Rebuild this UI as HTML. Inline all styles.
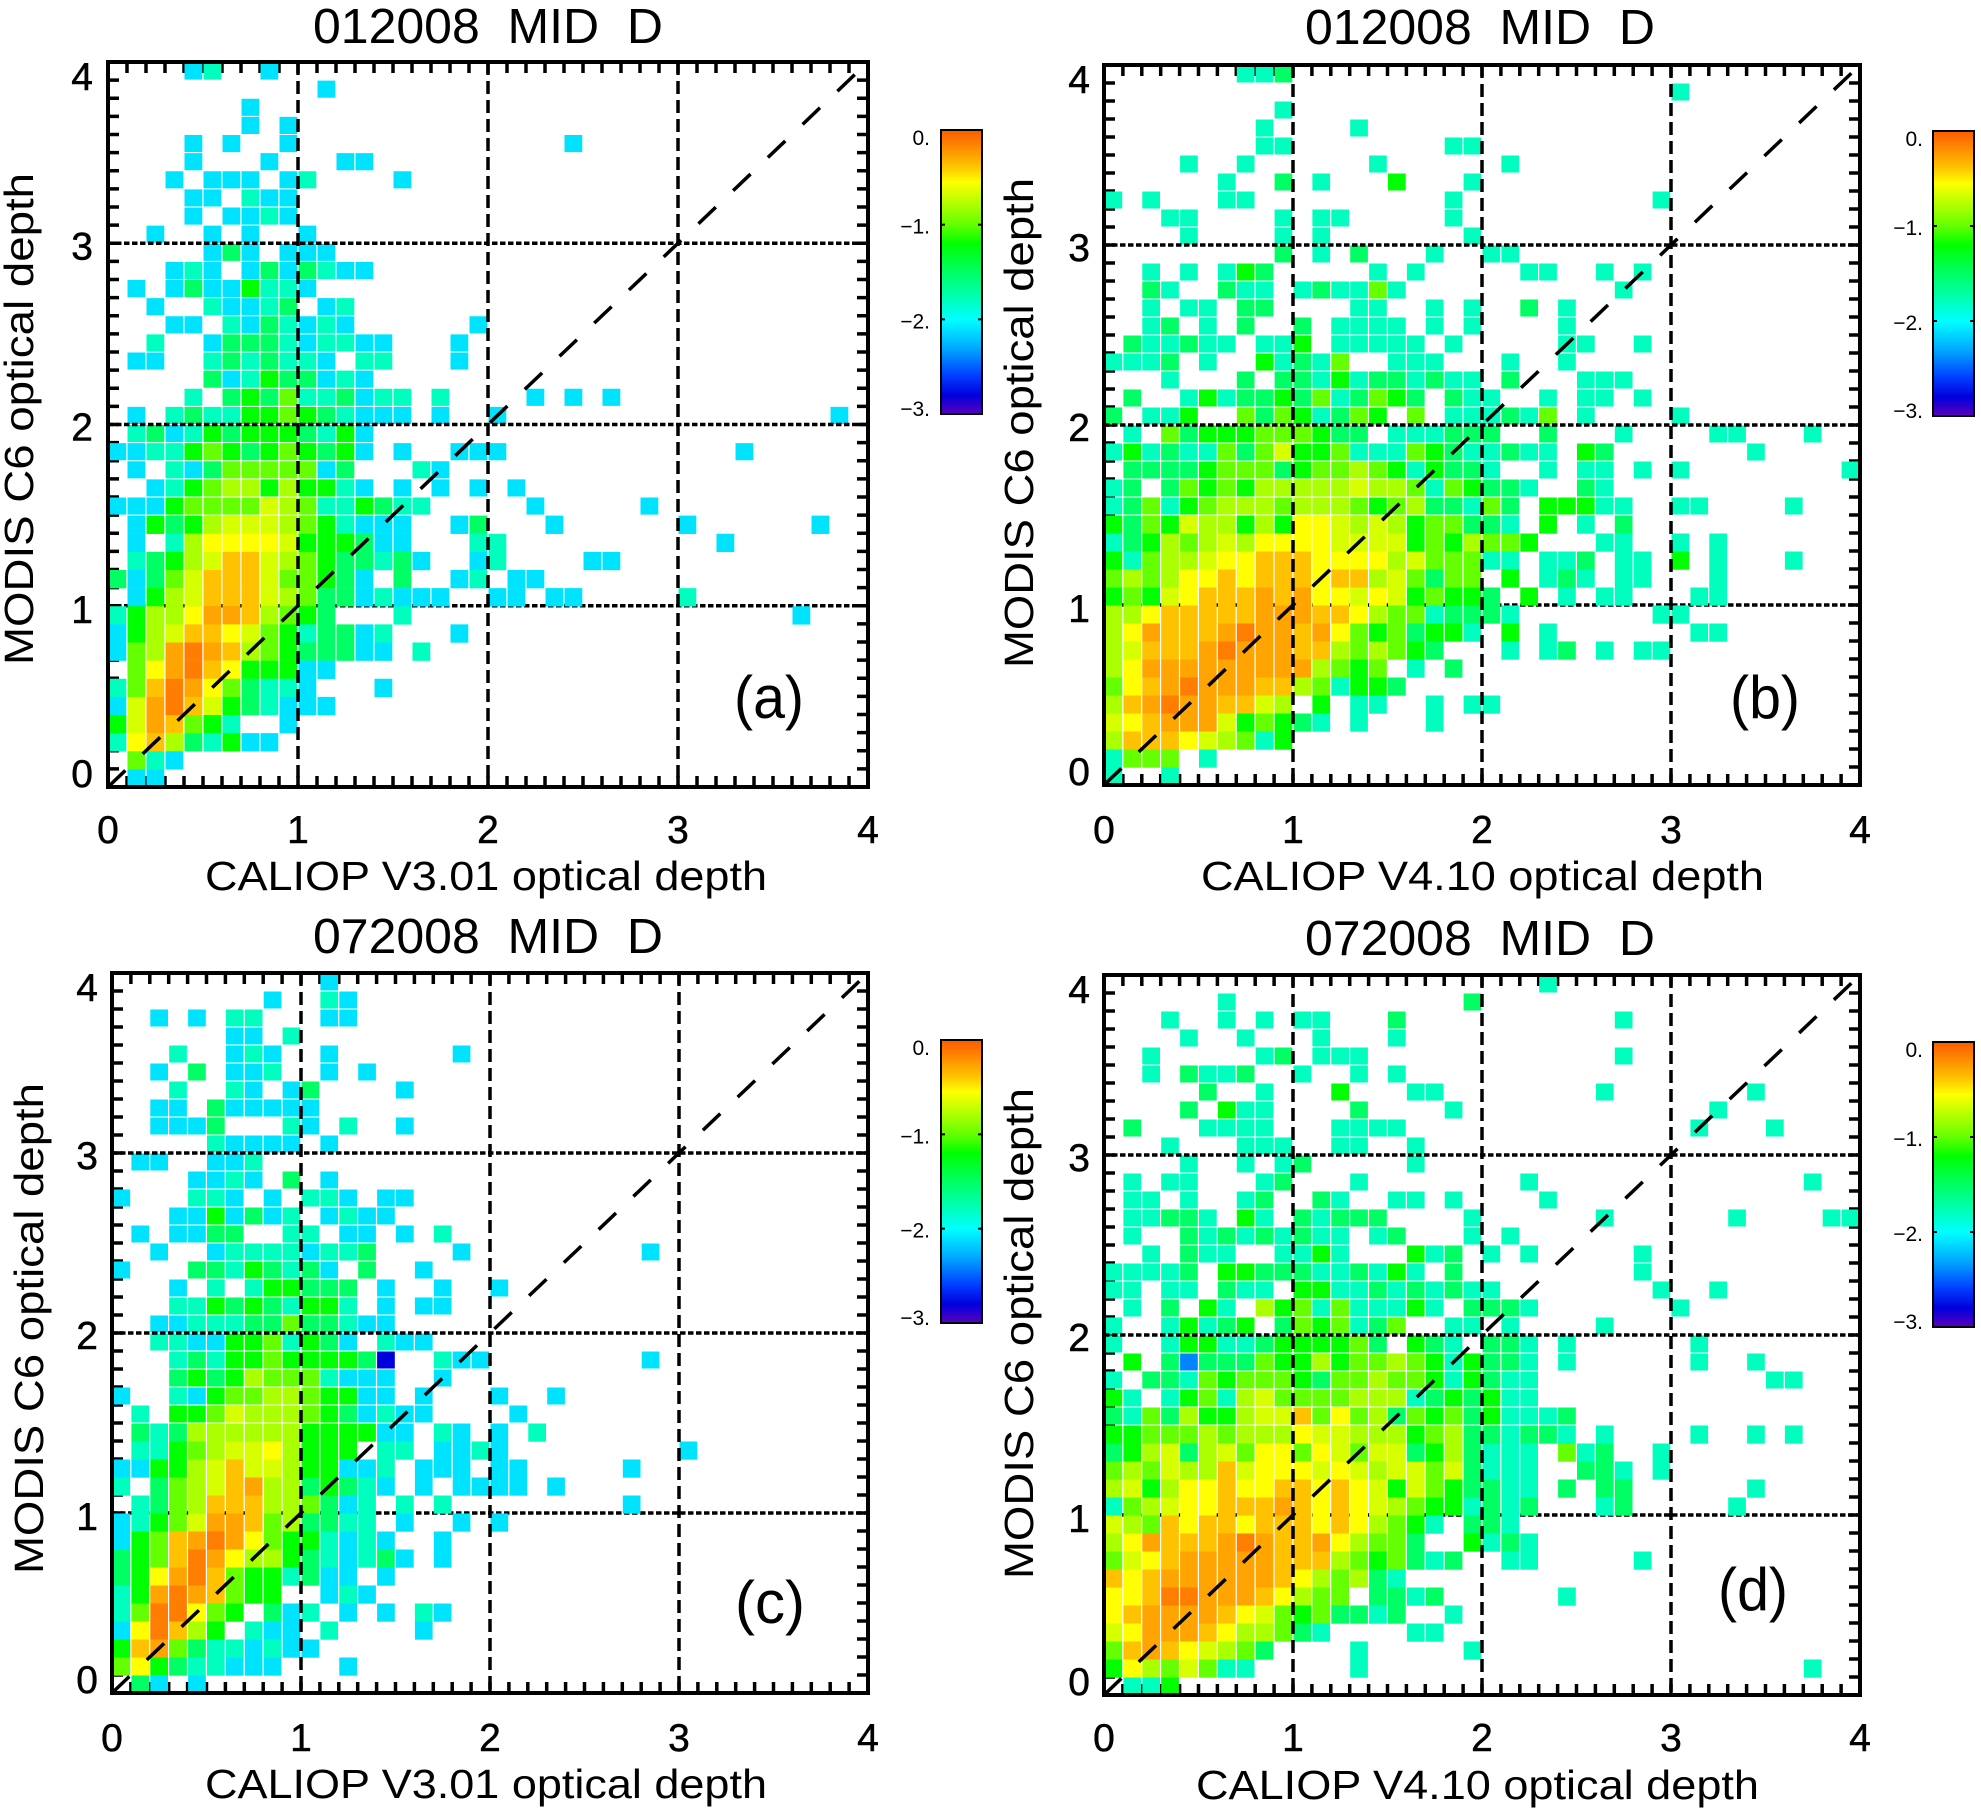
<!DOCTYPE html>
<html lang="en">
<head>
<meta charset="utf-8">
<title>MODIS versus CALIOP optical depth</title>
<style>
html,body{margin:0;padding:0;background:#fff;width:1981px;height:1815px;overflow:hidden}
svg{display:block;font-family:"Liberation Sans","DejaVu Sans",sans-serif}
</style>
</head>
<body>
<svg id="chart" xmlns="http://www.w3.org/2000/svg" width="1981" height="1815" viewBox="0 0 1981 1815"></svg>
<script>
const xTickValues = [0, 1, 2, 3, 4];
const yTickValues = [0, 1, 2, 3, 4];
const colorbarTicks = [0, -1, -2, -3];
const colorbarLabels = ['0.', '\u22121.', '\u22122.', '\u22123.'];
const panelTitles = ['012008  MID  D', '012008  MID  D', '072008  MID  D', '072008  MID  D'];
const panelXTitles = ['CALIOP V3.01 optical depth', 'CALIOP V4.10 optical depth', 'CALIOP V3.01 optical depth', 'CALIOP V4.10 optical depth'];
const panelYTitle = 'MODIS C6 optical depth';
const panelLetters = ['(a)', '(b)', '(c)', '(d)'];
/* log10 value for each cell level; level 0 is an empty bin */
const levelLog = [null, -2.1, -1.8, -1.5, -1.2, -1.0, -0.8, -0.67, -0.55, -0.38, -0.27, -0.13, -2.8, -2.4];

/* Rows run from y=4 (top) to y=0 (bottom), columns from x=0 rightward; short rows are empty to the right */
const gridA = [
[0,0,0,0,1,2,0,0,1],
[0,0,0,0,0,0,0,0,0,0,0,1],
[0,0,0,0,0,0,0,1],
[0,0,0,0,0,0,0,1,0,1],
[0,0,0,0,1,0,1,0,0,1,0,0,0,0,0,0,0,0,0,0,0,0,0,0,1],
[0,0,0,0,1,0,0,0,1,0,0,0,1,1],
[0,0,0,1,0,1,1,1,0,1,2,0,0,0,0,1],
[0,0,0,0,1,1,0,2,1,1],
[0,0,0,0,1,0,1,1,2,1],
[0,0,1,0,0,1,0,1,0,0,1],
[0,0,0,0,0,1,3,1,0,1,1,1],
[0,0,0,1,2,1,0,1,3,1,3,2,1,1],
[0,1,0,1,3,1,1,4,2,2,1],
[0,0,1,0,0,2,1,1,2,3,0,1,2],
[0,0,0,1,1,0,2,1,3,2,1,2,1,0,0,0,0,0,0,1],
[0,0,2,0,0,1,3,3,3,2,1,2,2,1,1,0,0,0,1],
[0,1,1,0,0,2,3,2,3,2,2,1,0,2,2,0,0,0,1],
[0,0,0,0,0,3,1,2,4,3,3,1,2,1],
[0,0,0,0,2,0,3,4,3,5,2,2,3,1,2,2,0,2,0,0,0,0,1,0,1,0,1],
[0,1,0,2,3,2,2,4,4,5,4,3,2,1,1,1,0,1,0,0,1,0,0,0,0,0,0,0,0,0,0,0,0,0,0,0,0,0,1],
[0,2,3,1,2,4,3,4,4,4,3,2,4,1],
[1,1,2,2,4,5,4,3,4,5,4,3,4,1,0,1,0,0,1,1,1,0,0,0,0,0,0,0,0,0,0,0,0,1],
[0,1,0,2,1,3,5,5,5,5,5,1,3,0,0,0,2,1],
[0,0,1,2,4,5,6,6,4,6,4,4,2,1,0,1,0,1,0,1,0,1],
[1,1,1,4,5,5,5,5,7,6,5,2,2,4,3,2,2,0,0,0,0,0,1,0,0,0,0,0,1],
[0,1,4,3,4,6,7,7,7,6,5,4,2,1,1,1,0,0,1,3,0,0,0,1,0,0,0,0,0,0,1,0,0,0,0,0,0,1],
[0,1,0,2,6,8,8,8,8,7,4,4,4,3,1,1,0,0,0,2,2,0,0,0,0,0,0,0,0,0,0,0,1],
[0,2,3,4,6,7,9,9,7,6,5,4,3,3,2,3,1,0,0,1,2,0,0,0,0,1,1],
[3,1,3,5,7,9,9,9,7,5,5,4,3,1,0,3,0,0,1,2,0,1,1],
[0,1,4,6,7,9,9,9,7,6,5,3,3,1,2,1,1,1,0,0,1,1,0,1,1,0,0,0,0,0,2],
[2,4,6,6,8,10,10,9,6,5,4,3,0,0,0,2,0,0,0,0,0,0,0,0,0,0,0,0,0,0,0,0,0,0,0,0,1],
[1,4,6,7,9,9,8,7,5,4,2,3,3,1,2,0,0,0,1],
[1,5,6,10,11,10,9,6,5,4,3,3,3,1,1,0,2],
[0,5,8,10,11,9,8,4,4,4,1,1],
[2,5,9,11,10,8,5,3,2,2,1,0,0,0,1],
[1,7,10,11,9,7,4,3,2,1,1,1],
[4,7,10,9,5,4,2,0,0,1],
[2,8,9,6,3,2,4,1,1],
[0,5,2,1],
[0,1,1]
];
const gridB = [
[0,0,0,0,0,0,0,2,2,3],
[0,0,0,0,0,0,0,0,0,0,0,0,0,0,0,0,0,0,0,0,0,0,0,0,0,0,0,0,0,0,2],
[0,0,0,0,0,0,0,0,0,2],
[0,0,0,0,0,0,0,0,2,0,0,0,0,2],
[0,0,0,0,0,0,0,0,2,2,0,0,0,0,0,0,0,0,2,2],
[0,0,0,0,2,0,0,2,0,0,0,0,0,0,2,0,0,0,0,0,0,2],
[0,0,0,0,0,0,2,0,0,3,0,2,0,0,0,4,0,0,0,2],
[2,0,2,0,0,0,2,2,0,0,0,0,0,0,0,0,0,0,2,0,0,0,0,0,0,0,0,0,0,2],
[0,0,0,2,2,0,0,0,0,2,0,2,2,0,0,0,0,0,2],
[0,0,0,0,2,0,0,0,0,2,0,2,0,0,0,0,0,0,0,2],
[0,0,0,0,0,0,0,0,0,3,0,2,0,3,0,0,0,2,0,0,2,2],
[0,0,2,0,2,0,2,4,3,0,0,0,0,0,2,0,2,0,0,0,0,0,2,2,0,0,2,0,2],
[0,0,3,2,0,0,3,2,2,0,2,3,2,2,5,2,0,0,0,0,0,0,0,0,0,0,0,2],
[0,0,2,0,2,2,0,3,3,0,0,0,0,2,2,0,0,2,0,2,0,0,3,0,2],
[0,0,2,3,0,2,0,3,0,0,3,0,2,2,2,2,0,2,0,2,0,0,0,0,2],
[0,3,2,2,3,2,2,0,2,2,4,0,2,2,2,2,2,0,2,0,0,0,0,0,2,2,0,0,2],
[2,2,2,3,0,2,0,0,4,2,3,2,5,0,0,2,2,2,0,0,0,2,0,0,2],
[0,0,0,2,0,0,0,3,0,3,3,2,4,2,3,3,2,3,2,2,0,3,0,0,0,2,2,2],
[0,3,0,0,2,4,2,3,3,4,3,5,2,3,5,4,3,0,3,2,2,0,0,2,0,2,2,0,2],
[3,0,2,2,4,0,0,5,3,5,4,2,3,5,4,0,5,0,2,2,2,3,2,5,0,2,0,0,0,0,2],
[0,2,0,5,3,4,4,4,5,5,5,4,3,3,0,2,2,2,3,3,3,0,0,3,0,0,0,2,0,0,0,0,2,2,0,0,0,2],
[2,4,2,3,2,2,5,3,5,7,4,4,5,2,2,2,5,4,3,2,2,3,2,2,0,4,3,0,0,0,0,0,0,0,2],
[0,3,3,3,3,4,5,5,5,3,4,5,5,6,5,4,2,4,3,3,2,0,0,2,0,2,2,0,2,0,2,0,0,0,0,0,0,0,0,2],
[2,3,0,3,5,4,5,4,6,6,6,6,6,7,6,6,5,2,5,4,3,3,2,0,0,3,2],
[2,3,5,2,4,5,6,6,6,5,6,6,6,5,4,5,6,3,3,2,5,3,0,4,4,4,2,2,0,0,2,2,0,0,0,0,2],
[4,3,5,4,7,6,6,4,6,4,8,8,7,6,7,6,4,5,5,3,3,2,0,4,0,2,0,3],
[2,3,4,6,5,6,7,6,8,8,8,8,7,7,7,7,4,5,4,6,5,5,4,0,0,0,2,2,0,0,2,0,2],
[4,2,5,6,6,7,8,8,9,9,9,8,8,8,8,6,7,5,5,5,2,2,0,2,2,3,0,2,2,0,4,0,2,0,0,0,2],
[5,6,5,6,8,8,9,8,9,9,9,8,9,9,6,7,5,3,5,5,0,4,0,2,3,2,0,2,2,0,0,0,2],
[4,5,4,7,8,9,9,9,10,9,10,8,8,7,8,7,4,5,4,4,3,0,4,0,2,0,2,2,0,0,0,2,2],
[6,6,8,9,9,9,9,9,10,10,10,9,9,8,6,5,5,2,3,3,3,2,0,0,0,0,0,0,0,2,2],
[6,8,10,9,9,9,10,11,10,10,9,10,8,5,4,5,3,4,4,2,0,4,0,2,0,0,0,0,0,0,0,2,2],
[6,7,9,9,9,10,11,10,10,10,9,9,6,5,6,5,4,3,0,0,0,2,0,2,3,0,2,0,2,2],
[6,8,10,10,10,10,10,10,10,10,10,6,5,4,5,0,2,0,3],
[5,8,9,10,11,10,10,10,9,9,6,5,2,4,4,3],
[6,9,10,11,10,10,9,9,7,6,0,4,0,2,2,0,0,2,0,2,2],
[7,8,9,10,10,10,7,4,5,4,3,2,0,2,0,0,0,2],
[6,9,9,9,8,7,6,5,2,4],
[2,5,5,5,0,2],
[2,0,0,2]
];
const gridC = [
[0,0,0,0,0,0,0,0,0,0,0,1],
[0,0,0,0,0,0,0,0,1,0,0,2,1],
[0,0,1,0,1,0,2,2,0,0,0,1,1],
[0,0,0,0,0,0,1,1,0,2],
[0,0,0,2,0,0,1,2,1,0,0,1,0,0,0,0,0,0,1],
[0,0,1,0,3,0,1,1,2,0,0,1,0,1],
[0,0,0,2,0,0,2,1,0,1,3,0,0,0,0,1],
[0,0,1,1,0,3,1,1,1,1,1],
[0,0,1,1,1,3,0,0,0,2,1,0,2,0,0,1],
[0,0,0,0,0,2,1,1,1,1,0,1],
[0,1,1,0,0,1,1,2],
[0,0,0,0,1,1,2,1,0,3,0,1],
[1,0,0,0,2,2,1,0,1,0,2,2,1,0,1,1],
[0,0,0,1,1,4,1,3,1,2,0,1,2,1,1],
[0,1,0,1,1,3,3,0,0,2,2,0,1,1,0,1,0,2],
[0,0,1,0,0,1,2,2,2,2,1,2,2,3,0,0,0,0,1,0,0,0,0,0,0,0,0,0,1],
[1,0,0,0,3,3,2,4,3,2,3,1,0,3,0,0,1],
[0,0,0,1,0,2,0,2,4,4,3,3,3,0,1,0,0,1,0,0,1],
[0,0,0,2,2,4,3,4,3,2,4,4,2,0,1,0,1,1],
[0,0,1,1,2,2,2,3,3,5,3,3,2,1,1],
[0,0,2,2,1,1,4,4,5,2,4,3,1,0,2,1,1],
[0,0,0,2,3,2,4,4,5,4,4,4,4,3,12,0,0,2,1,1,0,0,0,0,0,0,0,0,1],
[0,0,0,3,4,3,4,6,5,5,5,2,1,1,1,0,0,1],
[1,0,0,2,1,4,5,5,6,6,5,4,4,1,1,0,1,0,0,0,1,0,0,1],
[0,2,0,4,4,5,7,6,6,6,5,4,3,1,2,1,1,0,0,0,0,1],
[0,3,2,3,6,6,6,6,6,6,4,4,4,4,1,1,0,2,1,0,1,0,2],
[0,2,2,4,5,6,7,7,8,6,4,4,4,0,2,2,0,1,1,2,1,0,0,0,0,0,0,0,0,0,1],
[1,1,4,4,6,7,9,7,7,6,4,4,1,1,2,0,1,1,1,0,1,1,0,0,0,0,0,1],
[2,0,3,5,6,7,9,10,6,6,3,4,3,2,1,0,1,0,1,1,1,1,0,1],
[0,2,3,5,6,9,9,9,6,6,5,3,1,2,0,2,0,2,0,0,0,0,0,0,0,0,0,1],
[1,2,4,5,7,10,10,9,5,6,3,3,2,2,0,1,0,0,1,0,1],
[1,4,5,9,10,11,10,8,5,4,4,2,1,2,1,0,0,1],
[3,4,5,9,11,10,8,6,6,4,3,2,1,2,3,1,0,1],
[3,4,8,10,11,9,5,4,4,2,3,1,1,0,1],
[2,4,10,11,10,9,5,4,4,0,0,1,2,1],
[2,5,11,11,8,5,4,0,3,1,2,0,1,0,1,0,2,1],
[1,8,11,9,6,4,0,2,1,1,0,2,0,0,0,0,1],
[4,9,10,5,3,2,2,1,2,1,1],
[5,8,4,3,2,2,1,1,1,0,0,0,1],
[0,3,1,0,1]
];
const gridD = [
[0,0,0,0,0,0,0,0,0,0,0,0,0,0,0,0,0,0,0,0,0,0,0,2],
[0,0,0,0,0,0,2,0,0,0,0,0,0,0,0,0,0,0,0,3],
[0,0,0,2,0,0,2,0,2,0,2,2,0,0,0,3,0,0,0,0,0,0,0,0,0,0,0,2],
[0,0,0,0,2,0,0,2,0,0,0,2,0,0,0,2],
[0,0,2,0,0,0,0,0,2,3,0,2,2,2,0,0,0,0,0,0,0,0,0,0,0,0,0,2],
[0,0,2,0,3,2,2,3,0,0,2,0,0,2,0,2],
[0,0,0,0,0,3,0,0,2,0,0,0,4,0,0,0,2,2,0,0,0,0,0,0,0,0,2,0,0,0,0,0,0,0,2],
[0,0,0,0,3,0,4,2,2,0,0,0,0,3,0,0,0,0,2,0,0,0,0,0,0,0,0,0,0,0,0,0,2],
[0,3,0,0,0,2,2,2,2,0,0,0,2,2,2,2,0,0,0,0,0,0,0,0,0,0,0,0,0,0,0,2,0,0,0,2],
[0,0,0,2,0,0,0,2,2,2,0,0,2,2,0,0,2],
[0,0,0,0,2,0,0,2,0,2,3,0,0,0,0,0,2],
[0,2,0,2,2,0,0,0,2,3,0,0,0,2,0,0,0,0,0,0,0,0,2,0,0,0,0,0,0,0,0,0,0,0,0,0,0,2],
[0,2,2,0,2,0,0,2,3,0,0,3,2,0,0,2,2,0,2,0,0,0,0,2],
[0,2,2,3,3,2,0,4,2,0,3,2,3,3,3,0,0,0,0,2,0,0,0,0,0,0,2,0,0,0,0,0,0,2,0,0,0,0,2,2],
[0,2,0,0,3,2,3,2,3,2,3,2,2,0,2,3,0,0,0,2,0,2],
[0,0,2,0,3,2,2,0,0,2,2,4,2,0,0,0,4,2,3,0,2,0,2,0,0,0,0,0,2],
[2,2,2,2,3,0,4,4,3,3,3,2,2,3,2,4,2,0,3,0,0,0,0,0,0,0,0,0,2],
[2,2,0,2,2,0,3,2,2,0,4,4,2,2,3,2,3,2,3,2,2,0,0,0,0,0,0,0,0,2,0,0,2],
[0,2,0,3,0,4,2,0,6,4,5,2,5,2,2,2,4,2,0,3,3,3,2,0,0,0,0,0,0,0,2],
[2,0,0,2,4,2,3,4,0,3,5,4,5,2,3,5,0,0,2,2,0,2,0,0,0,0,2],
[2,0,0,2,4,4,2,2,3,4,4,4,4,5,3,0,4,3,2,0,3,3,2,0,2,0,0,0,0,0,0,2],
[0,4,0,3,13,3,3,3,5,4,4,6,4,5,5,6,5,4,2,4,3,3,2,0,2,0,0,0,0,0,0,2,0,0,2],
[2,0,3,3,2,5,4,5,5,5,4,3,5,5,6,5,5,4,2,4,3,2,2,0,0,0,0,0,0,0,0,0,0,0,0,2,2],
[4,2,0,2,4,5,2,6,7,5,5,5,5,6,6,6,2,3,4,3,4,2,2],
[3,2,5,3,6,4,4,6,7,7,9,5,8,5,6,3,5,4,5,3,4,2,2,2,3],
[4,4,5,5,5,6,5,6,6,6,8,7,7,6,6,6,4,5,6,3,3,2,3,3,2,0,2,0,0,0,0,2,0,0,2,0,2],
[3,4,6,7,3,6,7,5,8,8,5,8,7,5,7,7,3,4,6,3,2,2,2,0,5,2,3,0,0,2],
[5,6,5,7,6,6,9,7,8,8,8,7,8,7,6,7,7,5,7,3,2,2,2,0,0,3,3,2,0,2],
[6,7,4,6,8,8,9,8,8,9,9,8,9,8,7,4,7,5,4,3,3,2,2,0,3,0,3,3,0,0,0,0,0,0,2],
[2,5,6,7,8,8,9,9,9,10,9,8,9,8,7,6,5,4,4,2,3,2,3,0,0,0,2,3,0,0,0,0,0,2],
[7,6,5,9,8,9,9,8,9,9,9,8,9,8,6,5,4,2,0,3,3,2],
[6,8,10,9,9,9,10,11,10,9,9,10,8,6,5,5,3,0,0,4,2,3,2],
[5,7,8,9,10,10,10,10,10,9,9,9,6,5,4,5,3,2,3,0,0,2,2,0,0,0,0,0,2],
[9,8,9,10,10,10,10,10,10,9,8,6,5,6,3,2],
[8,8,9,11,11,10,10,10,9,8,6,5,5,0,3,3,2,3,0,0,0,0,0,0,2],
[8,9,10,10,10,10,9,8,7,5,4,5,3,3,2,3,0,0,2],
[7,8,10,10,10,9,8,6,6,5,3,2,0,0,0,0,2,2],
[5,9,10,9,8,7,6,5,3,0,0,0,0,2,0,0,0,0,0,2],
[4,8,6,5,7,5,2,2,0,0,0,0,0,2,0,0,0,0,0,0,0,0,0,0,0,0,0,0,0,0,0,0,0,0,0,0,0,2],
[0,2,2,4]
];
const panelGrids = [gridA, gridB, gridC, gridD];

const svgNS = 'http://www.w3.org/2000/svg';
const svg = document.getElementById('chart');
const BINS = 40;
const DOMAIN_MAX = 4;
const layouts = [
  {x0:108,x1:868,y0:787,y1:62,title:[313,43],xt:[205,890],xtLen:562,yt:[33,665],ytLen:492,xl:843,yl:93,letter:[734,718],bar:[941,982,130,414],barLab:930},
  {x0:1104,x1:1860,y0:785,y1:65,title:[1305,44],xt:[1201,890],xtLen:563,yt:[1033,668],ytLen:490,xl:843,yl:1090,letter:[1730,718],bar:[1933,1974,131,416],barLab:1923},
  {x0:112,x1:868,y0:1693,y1:973,title:[313,953],xt:[205,1798],xtLen:562,yt:[43,1574],ytLen:491,xl:1751,yl:98,letter:[735,1623],bar:[941,982,1040,1323],barLab:930},
  {x0:1104,x1:1860,y0:1695,y1:975,title:[1305,955],xt:[1196,1799],xtLen:563,yt:[1033,1579],ytLen:491,xl:1751,yl:1090,letter:[1718,1610],bar:[1933,1974,1042,1327],barLab:1923}
];
const yLabelBaselineShift = [0, 17, 16, 16, 28];
const colorStops = [
  [0,[255,90,0]],[-0.15,[255,130,0]],[-0.4,[255,200,0]],[-0.55,[255,255,0]],[-0.8,[170,255,0]],
  [-1,[100,255,0]],[-1.2,[0,255,0]],[-1.5,[0,255,100]],[-1.8,[0,255,190]],[-2,[0,255,255]],
  [-2.3,[0,170,255]],[-2.6,[0,60,255]],[-2.8,[0,0,220]],[-3,[90,0,190]]
];

function colorOf(v){
  for(let i=1;i<colorStops.length;i++){
    const a=colorStops[i-1], b=colorStops[i];
    if(v>=b[0]){
      const t=(a[0]-v)/(a[0]-b[0]);
      const c=a[1].map((p,k)=>Math.round(p+(b[1][k]-p)*t));
      return 'rgb('+c.join(',')+')';
    }
  }
  return 'rgb(90,0,190)';
}
function mk(tag,attrs,parent){
  const el=document.createElementNS(svgNS,tag);
  for(const k in attrs){el.setAttribute(k,attrs[k]);}
  (parent||svg).appendChild(el);
  return el;
}
const defs=mk('defs',{});
const grad=mk('linearGradient',{id:'colorbar-gradient',x1:0,y1:0,x2:0,y2:1},defs);
colorStops.forEach(s=>{
  mk('stop',{offset:(-s[0]/3),'stop-color':colorOf(s[0]===0?-0.0001:s[0])},grad);
});

function drawPanel(i){
  const L=layouts[i], grid=panelGrids[i];
  const sx=v=>L.x0+(L.x1-L.x0)*v/DOMAIN_MAX;
  const sy=v=>L.y0+(L.y1-L.y0)*v/DOMAIN_MAX;
  const g=mk('g',{});
  
  

  const title=mk('text',{x:L.title[0],y:L.title[1],'font-size':49,textLength:350,lengthAdjust:'spacingAndGlyphs',fill:'#000','xml:space':'preserve'},g);
  title.textContent=panelTitles[i];
  title.setAttribute('style','white-space:pre');
  
  

  const ticks=mk('g',{stroke:'#000','stroke-width':3.5},g);
  
  
  for(let k=1;k<BINS;k++){
    const v=k*DOMAIN_MAX/BINS;
    mk('line',{x1:sx(v),x2:sx(v),y1:L.y1,y2:L.y1+11},ticks);
    mk('line',{x1:sx(v),x2:sx(v),y1:L.y0,y2:L.y0-11},ticks);
    mk('line',{y1:sy(v),y2:sy(v),x1:L.x0,x2:L.x0+11},ticks);
    mk('line',{y1:sy(v),y2:sy(v),x1:L.x1,x2:L.x1-11},ticks);
  }
  const under=mk('line',{x1:L.x0,x2:L.x1,y1:sy(1),y2:sy(1),stroke:'#000','stroke-width':3.5,'stroke-dasharray':'5.5 2.5'},g);
  
  

  const cells=mk('g',{},g);
  
  
  const cw=(L.x1-L.x0)/BINS, ch=(L.y0-L.y1)/BINS;
  grid.forEach((row,r)=>{
    row.forEach((lvl,c)=>{
      if(!lvl){return;}
      const xv=c*DOMAIN_MAX/BINS, yv=(BINS-r)*DOMAIN_MAX/BINS;
      const solid=r>=25;
      const cell=mk('rect',{x:sx(xv)+0.5,y:sy(yv)+0.5,width:cw-1.2,height:solid?ch+0.2:ch-1,fill:colorOf(levelLog[lvl])},cells);
      
      
    });
  });

  [2,3].forEach(v=>{
    const gl=mk('line',{x1:L.x0,x2:L.x1,y1:sy(v),y2:sy(v),stroke:'#000','stroke-width':3.5,'stroke-dasharray':'5.5 2.5'},g);
    
    
  });
  [1,2,3].forEach(v=>{
    const gl=mk('line',{x1:sx(v),x2:sx(v),y1:L.y1,y2:L.y0,stroke:'#000','stroke-width':3.5,'stroke-dasharray':'13 6'},g);
    
    
  });
  const diag=mk('line',{x1:sx(0),y1:sy(0),x2:sx(DOMAIN_MAX),y2:sy(DOMAIN_MAX),stroke:'#000','stroke-width':3.5,'stroke-dasharray':'24 24'},g);
  
  
  const frame=mk('rect',{x:L.x0,y:L.y1,width:L.x1-L.x0,height:L.y0-L.y1,fill:'none',stroke:'#000','stroke-width':4},g);
  
  

  xTickValues.forEach(v=>{
    const t=mk('text',{x:sx(v),y:L.xl,'font-size':39,'text-anchor':'middle',fill:'#000',stroke:'#000','stroke-width':0.5},g);
    t.textContent=String(v);
    
    
  });
  yTickValues.forEach((v,k)=>{
    const t=mk('text',{x:L.yl,y:sy(v)+yLabelBaselineShift[k],'font-size':39,'text-anchor':'end',fill:'#000',stroke:'#000','stroke-width':0.5},g);
    t.textContent=String(v);
    
    
  });

  const xt=mk('text',{x:L.xt[0],y:L.xt[1],'font-size':41,textLength:L.xtLen,lengthAdjust:'spacingAndGlyphs',fill:'#000'},g);
  xt.textContent=panelXTitles[i];
  
  
  const yt=mk('text',{x:0,y:0,transform:'translate('+L.yt[0]+','+L.yt[1]+') rotate(-90)','font-size':41,textLength:L.ytLen,lengthAdjust:'spacingAndGlyphs',fill:'#000'},g);
  yt.textContent=panelYTitle;
  
  

  const letter=mk('text',{x:L.letter[0],y:L.letter[1],'font-size':60,textLength:70,lengthAdjust:'spacingAndGlyphs',fill:'#000'},g);
  letter.textContent=panelLetters[i];
  
  

  const B=L.bar;
  const cb=mk('g',{},g);
  
  
  const barRect=mk('rect',{x:B[0],y:B[2],width:B[1]-B[0],height:B[3]-B[2],fill:'url(#colorbar-gradient)',stroke:'#000','stroke-width':2},cb);
  
  
  const barY=v=>B[2]+(B[3]-B[2])*(-v)/3;
  colorbarTicks.forEach((v,k)=>{
    if(v!==0&&v!==-3){
      mk('line',{x1:B[0],x2:B[0]+4,y1:barY(v),y2:barY(v),stroke:'#000','stroke-width':2},cb);
      mk('line',{x1:B[1],x2:B[1]-4,y1:barY(v),y2:barY(v),stroke:'#000','stroke-width':2},cb);
    }
    const shift=k===0?15:(k===3?2:9);
    const t=mk('text',{x:L.barLab,y:barY(v)+shift,'font-size':21,'text-anchor':'end',fill:'#000'},cb);
    t.textContent=colorbarLabels[k];
    
    
  });
}
panelGrids.forEach((_,i)=>drawPanel(i));
</script>
</body>
</html>
